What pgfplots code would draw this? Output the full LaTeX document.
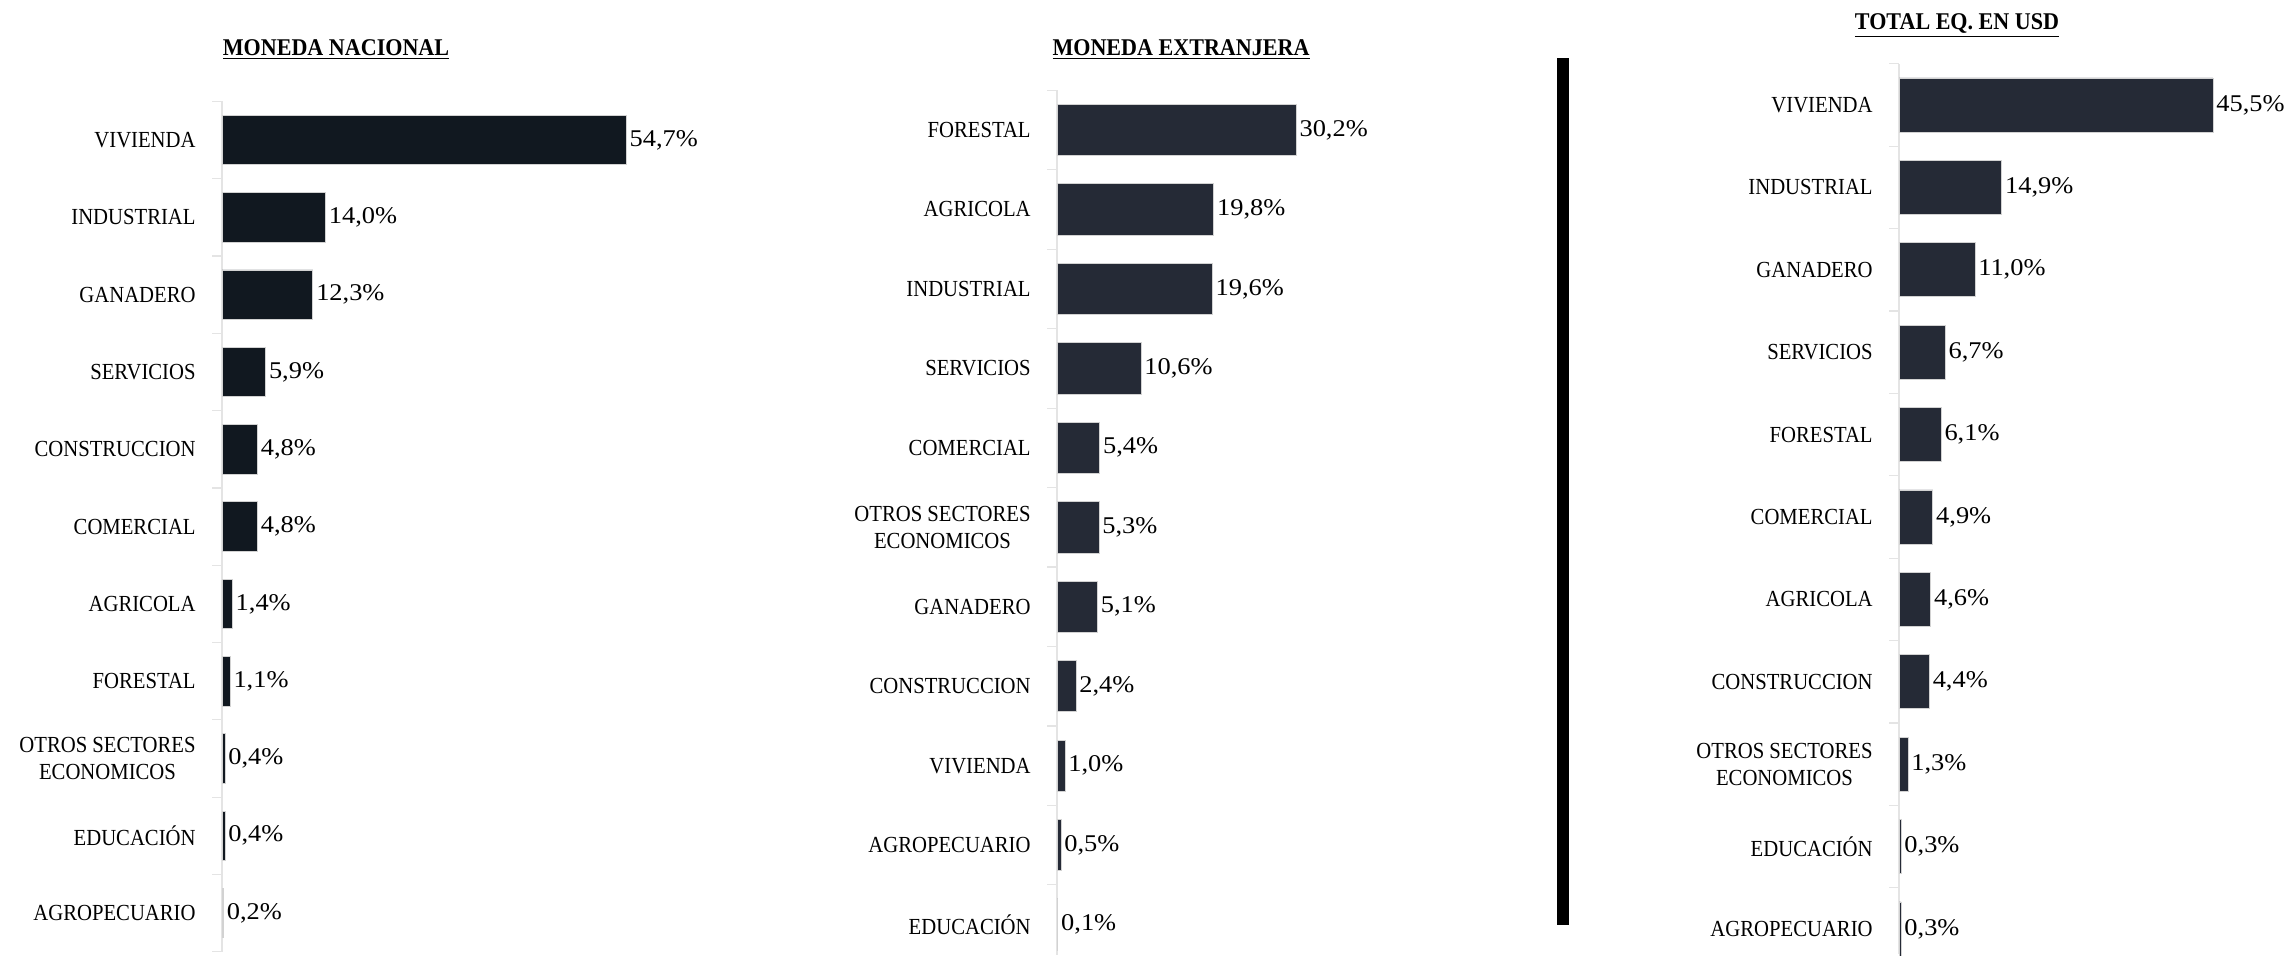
\documentclass[border=0pt]{standalone}
\usepackage{fontspec}
\setmainfont{Liberation Serif}
\newfontfamily\labf[FakeStretch=0.9]{Liberation Serif}
\newfontfamily\valf[FakeStretch=1.1]{Liberation Serif}
\newfontfamily\titf[FakeStretch=0.92]{Liberation Serif}
\usepackage{pgfplots}
\pgfplotsset{compat=1.18}
\definecolor{barA}{HTML}{111820}
\definecolor{barB}{HTML}{252A36}
\definecolor{axl}{HTML}{E4E4E4}
\pgfplotsset{panel/.style={
  scale only axis, anchor=south west,
  xbar, y dir=reverse,
  xmin=0, ymin=-0.5,
  axis x line=none, axis y line*=left,
  y axis line style={draw=axl, line width=0.6pt},
  ytick={0,...,10},
  major tick length=0pt,
  yticklabel style={font=\labf\fontsize{11.5}{13.6}\selectfont, align=center, inner sep=0pt, xshift=-13pt, text=black},
  extra y ticks={-0.5,0.5,1.5,2.5,3.5,4.5,5.5,6.5,7.5,8.5,9.5,10.5},
  extra y tick labels={},
  extra y tick style={major tick length=5pt, tick align=outside, tick style={draw=axl, line width=0.6pt}},
  point meta=x,
  nodes near coords={\pgfmathprintnumber[fixed, fixed zerofill, precision=1, use comma, assume math mode=true]{\pgfplotspointmeta}\%},
  nodes near coords style={font=\valf\fontsize{12}{14}\selectfont, anchor=west, inner sep=1.5pt, text=black},
  clip=false,
}}
\begin{document}
\begin{tikzpicture}
\useasboundingbox (0,0) rectangle (1145pt,477.5pt);
% Panel 1
\begin{axis}[panel, at={(111pt,1.65pt)}, width=221.7pt, height=425.15pt, xmax=60, ymax=10.5,
  yticklabels={VIVIENDA,INDUSTRIAL,GANADERO,SERVICIOS,CONSTRUCCION,COMERCIAL,AGRICOLA,FORESTAL,{OTROS SECTORES\\ECONOMICOS},EDUCACIÓN,AGROPECUARIO},
  bar width=0.64]
\addplot[fill=barA, draw=gray!35, line width=0.4pt] coordinates {
(54.7,0) (14.0,1) (12.3,2) (5.9,3) (4.8,4) (4.8,5) (1.4,6) (1.1,7) (0.4,8) (0.4,9) (0.2,10)};
\end{axis}
% Panel 2
\begin{axis}[panel, at={(528.5pt,0.15pt)}, width=158.4pt, height=432.2pt, xmax=40, ymax=10.38,
  yticklabels={FORESTAL,AGRICOLA,INDUSTRIAL,SERVICIOS,COMERCIAL,{OTROS SECTORES\\ECONOMICOS},GANADERO,CONSTRUCCION,VIVIENDA,AGROPECUARIO,EDUCACIÓN},
  extra y ticks={-0.5,0.5,1.5,2.5,3.5,4.5,5.5,6.5,7.5,8.5,9.5},
  bar width=0.645]
\addplot[fill=barB, draw=gray!35, line width=0.4pt] coordinates {
(30.2,0) (19.8,1) (19.6,2) (10.6,3) (5.4,4) (5.3,5) (5.1,6) (2.4,7) (1.0,8) (0.5,9) (0.1,10)};
\end{axis}
% Panel 3
\begin{axis}[panel, at={(949.5pt,0.64pt)}, width=189.75pt, height=444.96pt, xmax=55, ymax=10.3,
  yticklabels={VIVIENDA,INDUSTRIAL,GANADERO,SERVICIOS,FORESTAL,COMERCIAL,AGRICOLA,CONSTRUCCION,{OTROS SECTORES\\ECONOMICOS},EDUCACIÓN,AGROPECUARIO},
  extra y ticks={-0.5,0.5,1.5,2.5,3.5,4.5,5.5,6.5,7.5,8.5,9.5},
  bar width=0.656]
\addplot[fill=barB, draw=gray!35, line width=0.4pt] coordinates {
(45.5,0) (14.9,1) (11.0,2) (6.7,3) (6.1,4) (4.9,5) (4.6,6) (4.4,7) (1.3,8) (0.3,9) (0.3,10)};
\end{axis}
% Titles
\node[font=\titf\bfseries\fontsize{12}{14}\selectfont] at (168pt,452.5pt) {\underline{MONEDA NACIONAL}};
\node[font=\titf\bfseries\fontsize{12}{14}\selectfont] at (590.5pt,452.5pt) {\underline{MONEDA EXTRANJERA}};
\node[font=\titf\bfseries\fontsize{12}{14}\selectfont] at (978.5pt,464.5pt) {\underline{TOTAL EQ. EN USD}};
% Separator
\fill[black] (778.5pt,15pt) rectangle (784.5pt,448.5pt);
\end{tikzpicture}
\end{document}
